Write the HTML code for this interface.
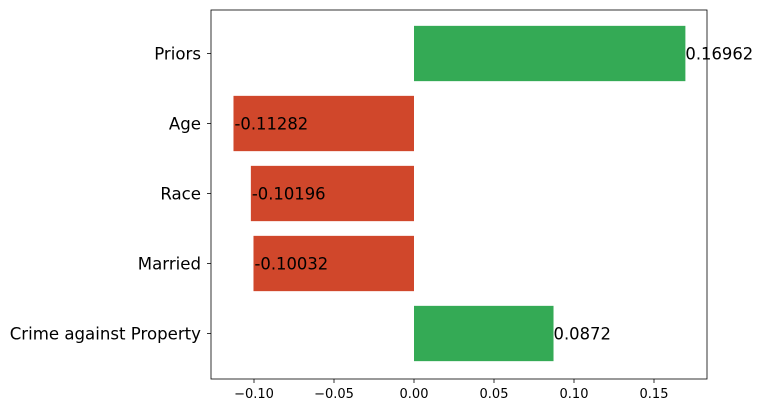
<!DOCTYPE html>
<html><head><meta charset="utf-8"><style>
body{margin:0;background:#fff;}
svg text{font-family:"DejaVu Sans","Liberation Sans",sans-serif;}
</style></head><body>
<svg id="chart" width="763" height="413"></svg>
<script>
const categories=["Priors","Age","Race","Married","Crime against Property"];
const values=[0.16962,-0.11282,-0.10196,-0.10032,0.0872];
const labels=["0.16962","-0.11282","-0.10196","-0.10032","0.0872"];
const xTicks=[-0.10,-0.05,0.00,0.05,0.10,0.15];
const xTickLabels=["\u22120.10","\u22120.05","0.00","0.05","0.10","0.15"];
const NS="http://www.w3.org/2000/svg";
const svg=document.getElementById('chart');
const L=211,R=707,T=10,B=379;
const xMin=-0.126875,xMax=0.183125;
function x(v){return L+(v-xMin)/(xMax-xMin)*(R-L);}
const unit=70;
function yc(i){return 53.5+unit*i;}
function mk(tag,attrs){const e=document.createElementNS(NS,tag);for(const k in attrs)e.setAttribute(k,attrs[k]);svg.appendChild(e);return e;}
values.forEach((v,i)=>{
  const h=unit*0.79;
  const r=mk('rect',{x:Math.min(x(0),x(v)),y:yc(i)-h/2,width:Math.abs(x(v)-x(0)),height:h,fill:v>=0?'#34aa55':'#d0472b'});
  
  
  const t=mk('text',{x:v>=0?x(v):x(v)+1,y:yc(i)+6,'font-size':16.4,fill:'#000'});
  t.textContent=labels[i];
  
  
  const yl=mk('text',{x:L-10,y:yc(i)+6,'font-size':16.6,'text-anchor':'end',fill:'#000'});
  yl.textContent=categories[i];
  
  
  const tk=mk('line',{x1:L-4,x2:L,y1:yc(i),y2:yc(i),stroke:'#000','stroke-width':0.8});
  
  
});
xTicks.forEach((v,i)=>{
  const tk=mk('line',{x1:x(v),x2:x(v),y1:B,y2:B+4,stroke:'#000','stroke-width':0.8});
  
  
  const t=mk('text',{x:x(v),y:B+19,'font-size':13,'text-anchor':'middle',fill:'#000'});
  t.textContent=xTickLabels[i];
  
  
});
const frame=mk('rect',{x:L,y:T,width:R-L,height:B-T,fill:'none',stroke:'#000','stroke-width':0.8});


</script>
</body></html>
